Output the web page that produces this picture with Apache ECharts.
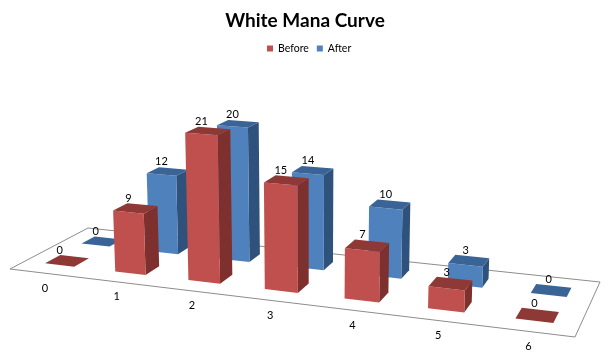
<!DOCTYPE html>
<html>
<head>
<meta charset="utf-8">
<title>White Mana Curve</title>
<style>
	html, body { margin: 0; padding: 0; background: #fff; }
	#chart { width: 610px; height: 354px; }
</style>
</head>
<body>
<div id="chart"></div>
<script src="https://cdn.jsdelivr.net/npm/echarts@6/dist/echarts.min.js"></script>
<script>
var categories = ['0', '1', '2', '3', '4', '5', '6'];
var before = [0, 9, 21, 15, 7, 3, 0];
var after = [0, 12, 20, 14, 10, 3, 0];

// floor of the fake 3d box, in page pixels
var floorFL = [10, 269], floorFR = [575, 337], floorBR = [600, 282], floorBL = [88, 228];
var vanish = [310, 5800];	// vertical lines meet down here
var barFill = 0.42;			// bar width inside one category band
var rowBefore = [0.18, 0.37], rowAfter = [0.65, 0.83];
var colorsBefore = { front: '#C0504D', side: '#7D302E', top: '#8F3937' };
var colorsAfter = { front: '#4F81BD', side: '#2F527D', top: '#3A6496' };

// unit square -> floor quad
function makeFloor(p0, p1, p2, p3) {
	var dx1 = p1[0] - p2[0], dx2 = p3[0] - p2[0], sx = p0[0] - p1[0] + p2[0] - p3[0];
	var dy1 = p1[1] - p2[1], dy2 = p3[1] - p2[1], sy = p0[1] - p1[1] + p2[1] - p3[1];
	var den = dx1 * dy2 - dx2 * dy1;
	var g = (sx * dy2 - dx2 * sy) / den, h = (dx1 * sy - sx * dy1) / den;
	return {
		a: p1[0] - p0[0] + g * p1[0], b: p3[0] - p0[0] + h * p3[0], c: p0[0],
		d: p1[1] - p0[1] + g * p1[1], e: p3[1] - p0[1] + h * p3[1], f: p0[1],
		g: g, h: h
	};
}
var floor = makeFloor(floorFL, floorFR, floorBR, floorBL);

// u along categories, v front to back, z height in px
function project(u, v, z) {
	var w = floor.g * u + floor.h * v + 1;
	var X = floor.a * u + floor.b * v + floor.c;
	var Y = floor.d * u + floor.e * v + floor.f;
	var k = z / (vanish[1] - 300);
	return [(X - k * vanish[0]) / (w - k), (Y - k * vanish[1]) / (w - k)];
}

function poly(pts, color) {
	return { type: 'polygon', shape: { points: pts }, style: { fill: color }, silent: true };
}

function barRenderer(row, colors) {
	return function (params, api) {
		var gw = params.coordSys.width;
		var band = api.size([1, 0])[0];
		var p = api.coord([api.value(0), api.value(1)]);
		var z = api.coord([api.value(0), 0])[1] - p[1];
		var u0 = (p[0] - params.coordSys.x - band * barFill / 2) / gw;
		var u1 = (p[0] - params.coordSys.x + band * barFill / 2) / gw;
		var v0 = row[0], v1 = row[1];
		var a = project(u0, v0, 0), b = project(u1, v0, 0), c = project(u1, v1, 0);
		var d = project(u0, v0, z), e = project(u1, v0, z), f = project(u1, v1, z), g = project(u0, v1, z);
		return {
			type: 'group',
			children: [
				poly([b, c, f, e], colors.side),
				poly([a, b, e, d], colors.front),
				poly([d, e, f, g], colors.top),
				{
					type: 'text', silent: true,
					style: {
						text: String(api.value(1)),
						x: (d[0] + e[0]) / 2, y: (f[1] + g[1]) / 2 - 6.5,
						align: 'center', verticalAlign: 'middle',
						font: '11px Lato', fill: '#000'
					}
				}
			]
		};
	};
}

var chart = echarts.init(document.getElementById('chart'));
chart.setOption({
	animation: false,
	title: {
		text: 'White Mana Curve', left: 'center', top: 6,
		textStyle: { fontFamily: 'Lato', fontSize: 19, fontWeight: 'bold', color: '#000' }
	},
	legend: {
		data: ['Before', 'After'], top: 38, left: 262,
		icon: 'rect', itemWidth: 6, itemHeight: 6, itemGap: 8,
		textStyle: { fontFamily: 'Lato', fontSize: 10.5, color: '#000' }
	},
	grid: { left: 0, right: 0, top: 0, bottom: 0 },
	xAxis: { type: 'category', data: categories, show: false },
	yAxis: { type: 'value', min: 0, max: 53.5, show: false },
	series: [
		{
			name: 'floor', type: 'custom', clip: false, silent: true, z: 1,
			data: [[0, 0]],
			renderItem: function () {
				return {
					type: 'polygon', silent: true,
					shape: { points: [floorFL, floorFR, floorBR, floorBL] },
					style: { fill: 'none', stroke: '#8c8c8c', lineWidth: 1 }
				};
			}
		},
		{
			name: 'labels', type: 'custom', clip: false, silent: true, z: 1,
			data: categories.map(function (c, i) { return [i, 0]; }),
			renderItem: function (params, api) {
				var p = api.coord([api.value(0), 0]);
				var q = project((p[0] - params.coordSys.x) / params.coordSys.width, 0, 0);
				return {
					type: 'text', silent: true,
					style: {
						text: categories[api.value(0)], x: q[0], y: q[1] + 15,
						align: 'center', verticalAlign: 'middle',
						font: '11px Lato', fill: '#000'
					}
				};
			}
		},
		{
			name: 'After', type: 'custom', clip: false, silent: true, z: 2,
			itemStyle: { color: colorsAfter.front },
			data: after.map(function (v, i) { return [i, v]; }),
			renderItem: barRenderer(rowAfter, colorsAfter)
		},
		{
			name: 'Before', type: 'custom', clip: false, silent: true, z: 3,
			itemStyle: { color: colorsBefore.front },
			data: before.map(function (v, i) { return [i, v]; }),
			renderItem: barRenderer(rowBefore, colorsBefore)
		}
	]
});
</script>
</body>
</html>
